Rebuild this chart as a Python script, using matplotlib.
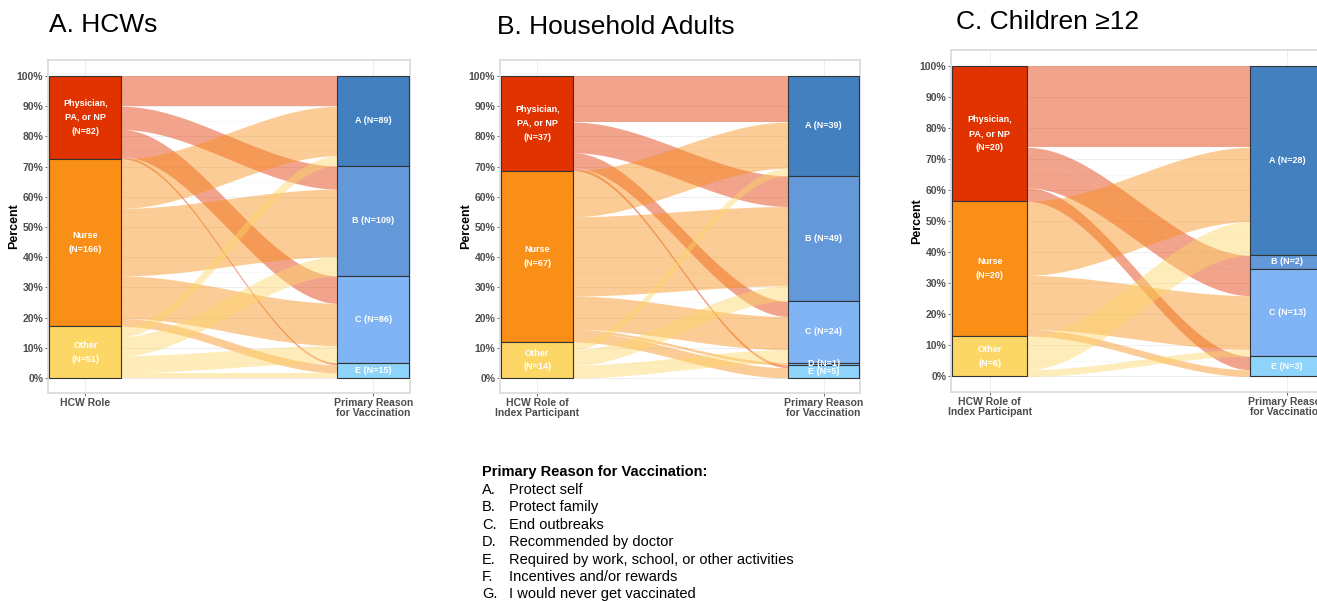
import numpy as np
import matplotlib
matplotlib.use("Agg")
import matplotlib.pyplot as plt

plt.rcParams['font.family'] = ['Liberation Sans', 'DejaVu Sans']

# roles on the left axis, reasons on the right axis
roles = ["Physician,\nPA, or NP", "Nurse", "Other"]
reasons = ["A", "B", "C", "D", "E"]

# flow counts: rows = role (Physician, Nurse, Other), cols = reason A..E
flows_hcw = [[30, 23, 27, 0, 2],
             [49, 67, 42, 0, 8],
             [10, 19, 17, 0, 5]]
flows_adults = [[18, 12, 6, 0, 1],
                [18, 31, 13, 1, 4],
                [3, 6, 5, 0, 0]]
flows_children = [[12, 2, 4, 0, 2],
                  [11, 0, 8, 0, 1],
                  [5, 0, 1, 0, 0]]

titles = ["A. HCWs", "B. Household Adults", "C. Children \u226512"]
left_axis_labels = ["HCW Role", "HCW Role of\nIndex Participant", "HCW Role of\nIndex Participant"]
right_axis_label = "Primary Reason\nfor Vaccination"

legend_title = "Primary Reason for Vaccination:"
legend_items = ["Protect self", "Protect family", "End outbreaks", "Recommended by doctor",
                "Required by work, school, or other activities", "Incentives and/or rewards",
                "I would never get vaccinated"]

role_colors = ["#E03300", "#F98F16", "#FDD766"]
reason_colors = ["#4380BF", "#6399D9", "#80B4F5", "#7FC6F8", "#8DD3FA"]

W, H = 1317, 601
fig = plt.figure(figsize=(W / 100, H / 100), dpi=100)


def smooth(t):
    return t * t * (3 - 2 * t)


def draw_panel(rect, flows, xlab_left):
    ax = fig.add_axes(rect)
    flows = np.array(flows, dtype=float)
    total = flows.sum()
    role_n = flows.sum(axis=1)
    reason_n = flows.sum(axis=0)
    bw = 0.125

    # grid
    for v in np.arange(0, 1.01, 0.1):
        ax.axhline(v, color="#EBEBEB", lw=0.6, zorder=0)
    for v in np.arange(0.05, 1.0, 0.1):
        ax.axhline(v, color="#F3F3F3", lw=0.4, zorder=0)
    for v in [1, 2]:
        ax.axvline(v, color="#EBEBEB", lw=0.6, zorder=0)

    # flow positions
    left_top = 1 - np.concatenate([[0], np.cumsum(role_n)[:-1]]) / total
    right_top = 1 - np.concatenate([[0], np.cumsum(reason_n)[:-1]]) / total
    xs = np.linspace(1 + bw, 2 - bw, 200)
    t = smooth((xs - xs[0]) / (xs[-1] - xs[0]))
    lcur = {}
    for i in range(len(roles)):
        y = left_top[i]
        for j in range(len(reasons)):
            lcur[(i, j)] = y
            y -= flows[i, j] / total
    rcur = {}
    for j in range(len(reasons)):
        y = right_top[j]
        for i in range(len(roles)):
            rcur[(i, j)] = y
            y -= flows[i, j] / total
    for i in range(len(roles)):
        for j in range(len(reasons)):
            c = flows[i, j]
            if c == 0:
                continue
            h = c / total
            y0, y1 = lcur[(i, j)], rcur[(i, j)]
            top = y0 + (y1 - y0) * t
            ax.fill_between(xs, top - h, top, color=role_colors[i], alpha=0.45, lw=0, zorder=2)

    # strata
    for i in range(len(roles)):
        h = role_n[i] / total
        ax.bar(1, h, bottom=left_top[i] - h, width=2 * bw, color=role_colors[i],
               edgecolor="#333333", lw=0.8, zorder=3)
        ax.text(1, left_top[i] - h / 2, f"{roles[i]}\n(N={int(role_n[i])})", ha="center", va="center",
                color="white", fontsize=6.5, fontweight="bold", linespacing=1.7, zorder=4)
    for j in range(len(reasons)):
        if reason_n[j] == 0:
            continue
        h = reason_n[j] / total
        ax.bar(2, h, bottom=right_top[j] - h, width=2 * bw, color=reason_colors[j],
               edgecolor="#333333", lw=0.8, zorder=3)
        ax.text(2, right_top[j] - h / 2, f"{reasons[j]} (N={int(reason_n[j])})", ha="center", va="center",
                color="white", fontsize=6.5, fontweight="bold", zorder=4)

    ax.set_xlim(1 - 0.13, 2 + 0.127)
    ax.set_ylim(-0.05, 1.053)
    ax.set_yticks(np.arange(0, 1.01, 0.1))
    ax.set_yticklabels([f"{int(round(v * 100))}%" for v in np.arange(0, 1.01, 0.1)])
    ax.set_xticks([1, 2])
    ax.set_xticklabels([xlab_left, right_axis_label])
    ax.tick_params(axis="both", labelsize=7.5, colors="#4D4D4D", length=2.5, width=0.6, pad=1)
    for lab in ax.get_xticklabels() + ax.get_yticklabels():
        lab.set_fontweight("bold")
        lab.set_color("#4D4D4D")
    for lab in ax.get_xticklabels():
        lab.set_linespacing(1.0)
    ax.set_ylabel("Percent", fontsize=9, fontweight="bold")
    ax.yaxis.set_label_coords(-28 / (rect[2] * W), 0.5)
    for s in ax.spines.values():
        s.set_color("#D9D9D9")
        s.set_linewidth(1.2)
    return ax


def rect_px(x0, y_top, x1, y_bot):
    return [x0 / W, 1 - y_bot / H, (x1 - x0) / W, (y_bot - y_top) / H]


draw_panel(rect_px(48, 60, 410, 393), flows_hcw, left_axis_labels[0])
draw_panel(rect_px(500, 60, 860, 393), flows_adults, left_axis_labels[1])
draw_panel(rect_px(951, 50, 1325, 392), flows_children, left_axis_labels[2])

fig.text(49 / W, 1 - 25 / H, titles[0], fontsize=19, va="center", ha="left")
fig.text(497 / W, 1 - 27 / H, titles[1], fontsize=19, va="center", ha="left")
fig.text(956 / W, 1 - 22 / H, titles[2], fontsize=19, va="center", ha="left")

fig.text(482 / W, 1 - 472 / H, legend_title, fontsize=10.5, fontweight="bold", va="center")
letters = ["A.", "B.", "C.", "D.", "E.", "F.", "G."]
for k, (let, item) in enumerate(zip(letters, legend_items)):
    y = 1 - (490 + 17.4 * k) / H
    fig.text(482 / W, y, let, fontsize=10.5, va="center")
    fig.text(509 / W, y, item, fontsize=10.5, va="center")

fig.savefig("out.png", dpi=100)
